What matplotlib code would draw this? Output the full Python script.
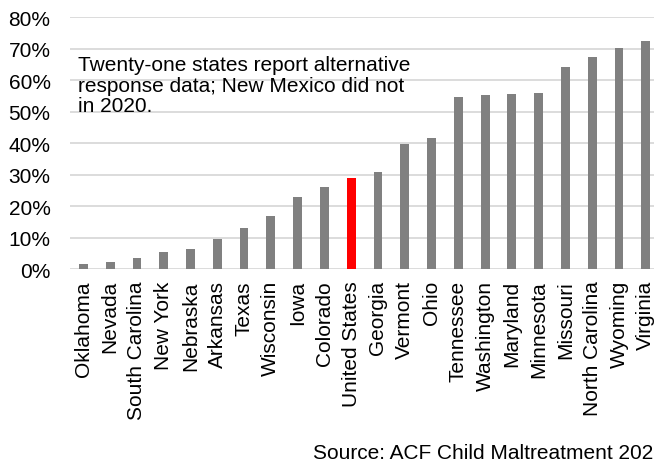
import numpy as np
import matplotlib
matplotlib.use("Agg")
import matplotlib.pyplot as plt

plt.rcParams['font.family'] = ['Liberation Sans', 'DejaVu Sans']

states = ['Oklahoma', 'Nevada', 'South Carolina', 'New York', 'Nebraska', 'Arkansas',
          'Texas', 'Wisconsin', 'Iowa', 'Colorado', 'United States', 'Georgia',
          'Vermont', 'Ohio', 'Tennessee', 'Washington', 'Maryland', 'Minnesota',
          'Missouri', 'North Carolina', 'Wyoming', 'Virginia']
values = [1.6, 2.1, 3.6, 5.4, 6.4, 9.4, 13.1, 16.9, 23.0, 26.0, 28.9, 30.8,
          39.8, 41.5, 54.6, 55.2, 55.7, 56.0, 64.3, 67.2, 70.1, 72.3]
yticks = [0, 10, 20, 30, 40, 50, 60, 70, 80]

fig = plt.figure(figsize=(6.54, 4.64), dpi=100)
ax = fig.add_axes([0.107, 0.418, 0.901, 0.543])

colors = ['#ff0000' if s == 'United States' else '#808080' for s in states]
x = np.arange(len(states))
ax.bar(x, values, width=0.33, color=colors, zorder=3)

ax.set_xlim(-0.5, len(states) - 0.5)
ax.set_ylim(0, 80)
ax.set_yticks(yticks)
ax.set_yticklabels(['%d%%' % v for v in yticks], fontsize=15)
ax.set_xticks(x)
ax.set_xticklabels(states, rotation=90, fontsize=15)
ax.tick_params(axis='y', length=0, pad=14)
ax.tick_params(axis='x', length=0, pad=8)
ax.grid(axis='y', color='#d9d9d9', linewidth=1.3, zorder=0)
for s in ax.spines.values():
    s.set_visible(False)

# note box top-left
ax.text(0.013, 0.85, 'Twenty-one states report alternative\nresponse data; New Mexico did not\nin 2020.',
        transform=ax.transAxes, fontsize=15, va='top', ha='left', linespacing=1.12)

# runs off the right edge, same as the original
fig.text(0.479, 0.011, 'Source: ACF Child Maltreatment 2020', fontsize=15, va='baseline', ha='left')

fig.savefig('out.png', dpi=100)
